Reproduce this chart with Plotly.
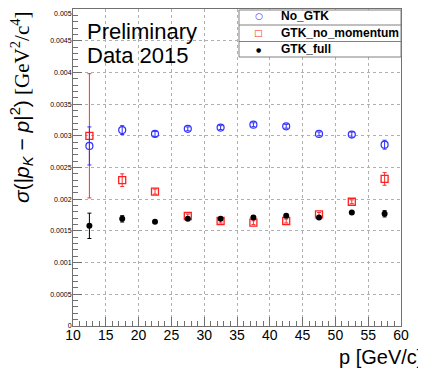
import plotly.graph_objects as go

p = [12.5, 17.5, 22.5, 27.5, 32.5, 37.5, 42.5, 47.5, 52.5, 57.5]
no_gtk = [0.00284, 0.00309, 0.00303, 0.00311, 0.00313, 0.003175, 0.00315, 0.00303, 0.00302, 0.00286]
no_gtk_err = [0.0003, 0.00007, 0.00004, 0.00003, 0.00003, 0.00003, 0.00003, 0.00003, 0.00004, 0.00007]
no_mom = [0.0030, 0.00230, 0.00212, 0.001735, 0.001656, 0.00163, 0.001656, 0.00176, 0.00196, 0.00232]
no_mom_err = [0.00098, 0.0001, 0.00004, 0.00003, 0.00003, 0.00003, 0.00003, 0.00003, 0.00003, 0.0001]
full = [0.00158, 0.00169, 0.001645, 0.00169, 0.00169, 0.00171, 0.00174, 0.00171, 0.00179, 0.00177]
full_err = [0.0002, 0.00005, 0.00002, 0.00002, 0.00002, 0.00002, 0.00002, 0.00002, 0.00002, 0.00005]
legend_names = ["No_GTK", "GTK_no_momentum", "GTK_full"]

ytick_vals = [0, 0.0005, 0.001, 0.0015, 0.002, 0.0025, 0.003, 0.0035, 0.004, 0.0045, 0.005]
ytick_text = ["0", "0.0005", "0.001", "0.0015", "0.002", "0.0025", "0.003", "0.0035", "0.004", "0.0045", " <br>0.005"]
xtick_vals = [10, 15, 20, 25, 30, 35, 40, 45, 50, 55, 60]

OFF = 8  # default page body margin
W, H = 426 - OFF, 370 - OFF
# page-pixel plot area: x 73..401, y 9..326
L, R, T, B = 73 - OFF, 426 - 401, 9 - OFF, 370 - 326
AXC = "#707070"

fig = go.Figure()
fig.add_trace(go.Scatter(x=p, y=no_mom, mode="markers", name=legend_names[1],
    marker=dict(symbol="square-open", size=7, color="#ff2020", line=dict(width=1.3)),
    error_y=dict(type="data", array=no_mom_err, color="#ff3030", thickness=1, width=2)))
fig.add_trace(go.Scatter(x=p, y=no_gtk, mode="markers", name=legend_names[0],
    marker=dict(symbol="circle-open", size=7, color="#3030ff", line=dict(width=1.2)),
    error_y=dict(type="data", array=no_gtk_err, color="#3030ff", thickness=1, width=2)))
fig.add_trace(go.Scatter(x=p, y=full, mode="markers", name=legend_names[2],
    marker=dict(symbol="circle", size=6, color="black"),
    error_y=dict(type="data", array=full_err, color="black", thickness=1, width=2)))

def px2paper(x, y):
    # x, y in page pixels
    return (x - 73) / (401 - 73), (326 - y) / (326 - 9)

shapes = []
annotations = []
# legend box
x0, y0 = px2paper(239, 10)
x1, y1 = px2paper(401, 57)
shapes.append(dict(type="rect", xref="paper", yref="paper", x0=x0, x1=x1, y0=y1, y1=y0,
                   fillcolor="white", line=dict(color="#808080", width=1), layer="above"))
for ly in [25, 41.5]:
    _, yy = px2paper(0, ly)
    shapes.append(dict(type="line", xref="paper", yref="paper", x0=x0, x1=x1, y0=yy, y1=yy,
                       line=dict(color="#808080", width=1), layer="above"))
syms = ["○", "□", "●"]
cols = ["#3030ff", "#ff2020", "black"]
sizes = [9, 9, 6]
for i, (name, s, c, sz) in enumerate(zip(legend_names, syms, cols, sizes)):
    cy = 16.5 + i * 16.3
    mx, my = px2paper(259, cy)
    annotations.append(dict(xref="paper", yref="paper", x=mx, y=my, text=s, showarrow=False,
                            font=dict(size=sz, color=c, family="DejaVu Sans"), xanchor="center", yanchor="middle"))
    tx, ty = px2paper(279, cy)
    annotations.append(dict(xref="paper", yref="paper", x=tx, y=ty, text="<b>" + name + "</b>", showarrow=False,
                            font=dict(size=12, color="black", family="Liberation Sans"), xanchor="left", yanchor="middle"))

# Preliminary text
for txt, cy in [("Preliminary", 31), ("Data 2015", 56)]:
    px_, py_ = px2paper(85, cy)
    annotations.append(dict(xref="paper", yref="paper", x=px_, y=py_, text=txt, showarrow=False,
                            align="left", xanchor="left", yanchor="middle",
                            font=dict(size=22, color="black", family="Liberation Sans")))
# y title
tx, ty = px2paper(21, 9)
annotations.append(dict(xref="paper", yref="paper", x=tx, y=ty, textangle=-90, showarrow=False,
                        xanchor="center", yanchor="top",
                        text=("<span style='font-family:Liberation Sans'><i>σ</i>(|<i>p</i><sub><i>K</i></sub>"
                              " − <i>p</i>|<sup>2</sup>)</span> [GeV<sup>2</sup>/c<sup>4</sup>]"),
                        font=dict(size=21, color="black", family="Liberation Serif")))
# x title
tx, ty = px2paper(424, 357)
annotations.append(dict(xref="paper", yref="paper", x=tx, y=ty, showarrow=False,
                        xanchor="right", yanchor="middle", text="p [GeV/c]",
                        font=dict(size=20, color="black", family="Liberation Sans")))

fig.update_layout(
    width=W, height=H, margin=dict(l=L, r=R, t=T, b=B, autoexpand=False),
    paper_bgcolor="white", plot_bgcolor="white", showlegend=False,
    shapes=shapes, annotations=annotations,
    xaxis=dict(range=[10, 60], tickvals=xtick_vals, ticks="inside", ticklen=9, tickcolor=AXC,
               showline=True, linecolor=AXC, mirror=True, linewidth=1,
               showgrid=True, gridcolor="#b0b0b0", griddash="dot", gridwidth=1, zeroline=False,
               ticklabelstandoff=-4, ticklabeloverflow="allow",
               tickfont=dict(size=14, family="Liberation Sans", color="black"),
               minor=dict(dtick=1, ticks="inside", ticklen=5, tickcolor=AXC, showgrid=False)),
    yaxis=dict(range=[0, 0.005], tickvals=ytick_vals, ticktext=ytick_text, ticks="inside", ticklen=9,
               tickcolor=AXC, showline=True, linecolor=AXC, mirror=True, linewidth=1,
               showgrid=True, gridcolor="#b0b0b0", griddash="dot", gridwidth=1, zeroline=False,
               ticklabelstandoff=-1, ticklabeloverflow="allow",
               tickfont=dict(size=7, family="Liberation Sans", color="black"),
               minor=dict(dtick=0.0001, ticks="inside", ticklen=5, tickcolor=AXC, showgrid=False)),
)
fig.write_html("out.html")
